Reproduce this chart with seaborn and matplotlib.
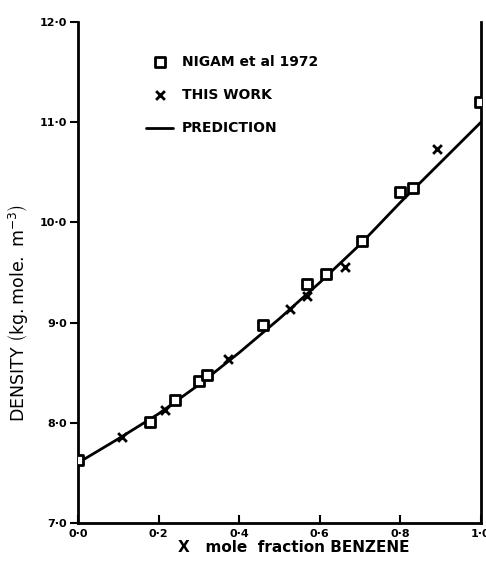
import numpy as np
import pandas as pd
import matplotlib
matplotlib.use("Agg")
import matplotlib.pyplot as plt
import seaborn as sns

# Nigam et al 1972 (open squares)
nigam_x = [0.0, 0.178, 0.241, 0.300, 0.320, 0.459, 0.568, 0.615, 0.705, 0.799, 0.831, 0.998]
nigam_y = [7.63, 8.01, 8.23, 8.42, 8.48, 8.98, 9.39, 9.49, 9.81, 10.30, 10.34, 11.20]

# this work (crosses)
work_x = [0.109, 0.216, 0.372, 0.526, 0.568, 0.663, 0.891]
work_y = [7.86, 8.13, 8.64, 9.14, 9.27, 9.55, 10.73]

# prediction curve
pred_x = [0.0, 0.1, 0.2, 0.3, 0.4, 0.5, 0.6, 0.7, 0.8, 0.9, 1.0]
pred_y = [7.60, 7.84, 8.09, 8.38, 8.70, 9.04, 9.40, 9.78, 10.20, 10.60, 11.00]

x_ticks = [0.0, 0.2, 0.4, 0.6, 0.8, 1.0]
x_ticklabels = ["0·0", "0·2", "0·4", "0·6", "0·8", "1·0"]
y_ticks = [7, 8, 9, 10, 11, 12]
y_ticklabels = ["7·0", "8·0", "9·0", "10·0", "11·0", "12·0"]

sns.set_style("ticks")
plt.rcParams["font.family"] = ["DejaVu Sans"]
plt.rcParams.update({"text.color": "black", "axes.labelcolor": "black",
                     "xtick.color": "black", "ytick.color": "black",
                     "axes.edgecolor": "black"})

fig = plt.figure(figsize=(4.86, 5.62), dpi=100)
ax = fig.add_axes([78 / 486, 39 / 562, 403 / 486, 501 / 562])

pred = pd.DataFrame({"x": pred_x, "y": pred_y})
sns.lineplot(data=pred, x="x", y="y", ax=ax, color="black", lw=2,
             label="PREDICTION")
sns.scatterplot(x=nigam_x, y=nigam_y, ax=ax, marker="s", s=50,
                facecolors="white", edgecolor="black", linewidth=2,
                label="NIGAM et al 1972", zorder=3)
sns.scatterplot(x=work_x, y=work_y, ax=ax, marker="x", s=40,
                color="black", linewidth=2, label="THIS WORK", zorder=3)

ax.set_xlim(0, 1.0)
ax.set_ylim(7, 12)
ax.set_xticks(x_ticks)
ax.set_xticklabels(x_ticklabels, fontsize=8, fontweight="bold")
ax.set_yticks(y_ticks)
ax.set_yticklabels(y_ticklabels, fontsize=8, fontweight="bold")
ax.tick_params(axis="x", direction="in", length=6, width=1.5, pad=4)
ax.tick_params(axis="y", direction="out", length=6, width=1.5, pad=2)

ax.spines["top"].set_visible(False)
for s in ["left", "bottom", "right"]:
    ax.spines[s].set_linewidth(2)

ax.set_xlabel("X   mole  fraction BENZENE", fontsize=11, fontweight="bold")
ax.xaxis.set_label_coords(0.536, -0.034)
ax.set_ylabel(r"DENSITY $\left(\mathrm{kg.mole.\ m^{-3}}\right)$", fontsize=12.5)
ax.yaxis.set_label_coords(-0.12, 0.42)

handles, labels = ax.get_legend_handles_labels()
order = [labels.index(l) for l in ["NIGAM et al 1972", "THIS WORK", "PREDICTION"]]
leg = ax.legend([handles[i] for i in order], [labels[i] for i in order],
                loc="upper left", bbox_to_anchor=(0.137, 0.96), frameon=False,
                handlelength=2.0, labelspacing=1.4, handletextpad=0.6,
                prop={"weight": "bold", "size": 10})

fig.savefig("out.png", dpi=100)
